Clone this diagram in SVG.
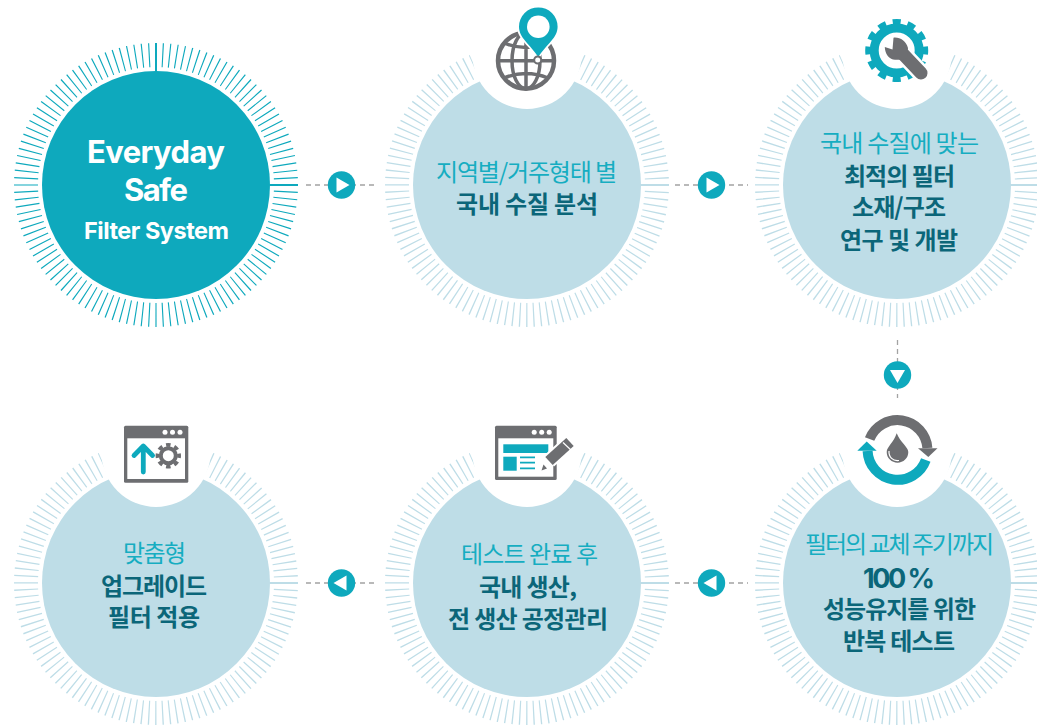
<svg xmlns="http://www.w3.org/2000/svg" xmlns:xlink="http://www.w3.org/1999/xlink" width="1037" height="726" viewBox="0 0 1037 726">
<style>
text{text-anchor:middle;font-family:"Noto Sans CJK KR","Noto Sans",sans-serif}
.en{font-family:Inter,"Liberation Sans",sans-serif;font-weight:700;fill:#fff}
.t{font-size:24px;font-weight:400;fill:#16adc1}
.b{font-size:24px;font-weight:700;fill:#0b6679}
.num{font-family:Inter,"Liberation Sans",sans-serif;font-size:27px;font-weight:700;fill:#0b6679}
.disc{fill:#bedde7}
.tick{fill:none;stroke:#bedde7;stroke-width:24;stroke-dasharray:.55 2.45}
.axis{stroke:#bedde7;stroke-width:2}
.tick1{fill:none;stroke:#0ea9bd;stroke-width:24;stroke-dasharray:.5 2.5;stroke-dashoffset:.25}
.notch{fill:#fff}
.dash{fill:none;stroke:#a3a3a3;stroke-width:1.3;stroke-dasharray:5 4}
.teal{fill:#0ea9bd}
.gray{fill:#6d6e71}
.white{fill:#fff}
.gl{fill:none;stroke:#6d6e71;stroke-width:3.5}
</style>
<defs>
<g id="badge"><circle r="13.7" class="teal"/><path d="M-5-7.500V7.500L8 0Z" class="white"/></g>
<g id="dots"><circle cx="-7.500" r="2.500" class="white"/><circle r="2.500" class="white"/><circle cx="7.500" r="2.500" class="white"/></g>
</defs>

<g id="connectors">
<path class="dash" d="M306 185H378"/>
<path class="dash" d="M675 185H748"/>
<path class="dash" d="M897.500 340V412"/>
<path class="dash" d="M675 583H748"/>
<path class="dash" d="M306 583H378"/>
<use xlink:href="#badge" href="#badge" x="341.500" y="185"/>
<use xlink:href="#badge" href="#badge" x="711.500" y="185"/>
<use xlink:href="#badge" href="#badge" transform="translate(897.500 375) rotate(90)"/>
<use xlink:href="#badge" href="#badge" transform="translate(711.500 583) rotate(180)"/>
<use xlink:href="#badge" href="#badge" transform="translate(341.500 583) rotate(180)"/>
</g>

<g id="node-start">
<circle class="tick1" cx="156" cy="185" r="130" pathLength="360"/>
<path d="M156 43V71M270 185H298" stroke="#0ea9bd" stroke-width="2" fill="none"/>
<circle cx="156" cy="185" r="114" class="teal"/>
<text class="en" x="156" y="163" font-size="31" textLength="138">Everyday</text>
<text class="en" x="156" y="200.500" font-size="31" textLength="64">Safe</text>
<text class="en" x="156.500" y="238.500" font-size="23.500" textLength="145">Filter System</text>
</g>

<g id="node-analysis">
<path class="tick" d="M579.460 66.050A130 130 0 1 1 474.540 66.050" pathLength="312.400"/>
<path class="axis" d="M641 185H669"/>
<circle class="disc" cx="527" cy="185" r="114"/>
<circle class="notch" cx="527" cy="54.500" r="54.500"/>
<circle cx="526" cy="60.700" r="28" class="gl" style="stroke-width:4.500"/>
<ellipse cx="526" cy="60.700" rx="14" ry="28" class="gl"/>
<path class="gl" d="M526 33V88M498 60.700H554M504 43Q526 52 548 43M504 78Q526 69 548 78"/>
<path d="M538.300 60C530 46 517 39 517 26.700A21.300 21.300 0 1 1 559.600 26.700C559.600 39 546.600 46 538.300 60Z" class="white"/>
<path d="M538.300 57C530 44 519 38 519 26.700A19.300 19.300 0 1 1 557.600 26.700C557.600 38 546.600 44 538.300 57Z" class="teal"/>
<circle cx="538.300" cy="26.700" r="11.300" class="white"/>
<circle cx="537.700" cy="60" r="3.500" fill="#fff" stroke="#6d6e71" stroke-width="2"/>
<text class="t" x="526.500" y="181" textLength="181">지역별/거주형태 별</text>
<text class="b" x="527" y="213" textLength="142">국내 수질 분석</text>
</g>

<g id="node-research">
<path class="tick" d="M949.460 66.050A130 130 0 1 1 844.540 66.050" pathLength="312.400"/>
<path class="axis" d="M1011 185H1037"/>
<circle class="disc" cx="897" cy="185" r="114"/>
<circle class="notch" cx="897" cy="54.500" r="54.500"/>
<circle cx="896.700" cy="50.500" r="28" fill="none" stroke="#0ea9bd" stroke-width="7" pathLength="360" stroke-dasharray="16 14" stroke-dashoffset="8"/>
<circle cx="896.700" cy="50.500" r="22.500" fill="none" stroke="#0ea9bd" stroke-width="9"/>
<path d="M903 54L921 73" stroke="#fff" stroke-width="18" stroke-linecap="round"/>
<path d="M903 54L921 73" stroke="#6d6e71" stroke-width="13" stroke-linecap="round"/>
<path d="M884.800 47L892.500 49.500L893.500 37.700C900 37 906 41 908 48L907 58C902 60 897 60 893 59.500C888 58 885 53 884.800 47Z" class="gray"/>
<text class="t" x="899.500" y="152" textLength="159">국내 수질에 맞는</text>
<text class="b" x="899.500" y="185" textLength="111">최적의 필터</text>
<text class="b" x="899" y="216" textLength="94">소재/구조</text>
<text class="b" x="899" y="249" textLength="118">연구 및 개발</text>
</g>

<g id="node-test">
<path class="tick" d="M949.460 464.050A130 130 0 1 1 844.540 464.050" pathLength="312.400"/>
<path class="axis" d="M1011 583H1037"/>
<circle class="disc" cx="897" cy="583" r="114"/>
<circle class="notch" cx="897" cy="452.500" r="54.500"/>
<path d="M869.600 439A30 30 0 0 1 927.400 448" fill="none" stroke="#6d6e71" stroke-width="10"/>
<path d="M918 448.300H937.500L928.300 457Z" class="gray"/>
<path d="M925.800 460A30 30 0 0 1 867.600 451" fill="none" stroke="#0ea9bd" stroke-width="10"/>
<path d="M857.300 450.700H876.700L866.700 441.500Z" class="teal"/>
<path d="M896.700 433.300C894 442 886.700 447 886.700 452A10.800 10.800 0 0 0 908.300 452C908.300 447 900 442 896.700 433.300Z" class="gray"/>
<path d="M889 451C888.500 457 893 461.500 899 460.500" fill="none" stroke="#fff" stroke-width="1.200"/>
<text class="t" x="899.500" y="553" textLength="189">필터의 교체 주기까지</text>
<text class="num" x="899" y="588" textLength="72">100 %</text>
<text class="b" x="899.500" y="618" textLength="153">성능유지를 위한</text>
<text class="b" x="899" y="650" textLength="112">반복 테스트</text>
</g>

<g id="node-production">
<path class="tick" d="M579.460 464.050A130 130 0 1 1 474.540 464.050" pathLength="312.400"/>
<path class="axis" d="M641 583H669"/>
<circle class="disc" cx="527" cy="583" r="114"/>
<circle class="notch" cx="527" cy="452.500" r="54.500"/>
<rect x="495" y="425.700" width="61.700" height="54.300" rx="1.500" class="gray"/>
<rect x="498.300" y="438.300" width="55" height="38.400" class="white"/>
<use xlink:href="#dots" href="#dots" x="541.700" y="432.300"/>
<rect x="503.300" y="444.300" width="45" height="8.700" class="teal"/>
<rect x="503.300" y="456.700" width="13.400" height="14" class="teal"/>
<path d="M520 457.300H535M520 462.700H535M520 468.300H535" stroke="#0ea9bd" stroke-width="1.700" fill="none"/>
<path d="M549 461L570 442" stroke="#fff" stroke-width="15"/>
<path d="M549 461L570 442" stroke="#6d6e71" stroke-width="11"/>
<path d="M563 442.500L572 451" stroke="#fff" stroke-width="1.200" fill="none"/>
<path d="M541.500 470.500L547 468.500L543.500 464.500Z" class="gray"/>
<text class="t" x="529.500" y="562.500" textLength="137">테스트 완료 후</text>
<text class="b" x="528" y="595.500" textLength="98">국내 생산,</text>
<text class="b" x="528" y="627.500" textLength="160">전 생산 공정관리</text>
</g>

<g id="node-upgrade">
<path class="tick" d="M208.460 464.050A130 130 0 1 1 103.540 464.050" pathLength="312.400"/>
<path class="axis" d="M270 583H298"/>
<circle class="disc" cx="156" cy="583" r="114"/>
<circle class="notch" cx="156" cy="452.500" r="54.500"/>
<rect x="124" y="425.700" width="64.300" height="57" rx="1.500" class="gray"/>
<rect x="127.300" y="438.300" width="57.700" height="40.700" class="white"/>
<use xlink:href="#dots" href="#dots" x="172.500" y="432.300"/>
<path d="M143.300 472V447M134 455.500L143.300 446L152.600 455.500" fill="none" stroke="#0ea9bd" stroke-width="4.800" stroke-linecap="round" stroke-linejoin="round"/>
<circle cx="168.300" cy="455.700" r="10.800" fill="none" stroke="#6d6e71" stroke-width="3.800" pathLength="360" stroke-dasharray="24 21" stroke-dashoffset="12"/>
<circle cx="168.300" cy="455.700" r="7.500" fill="none" stroke="#6d6e71" stroke-width="4"/>
<text class="t" x="154.500" y="561.500" textLength="63">맞춤형</text>
<text class="b" x="154" y="595" textLength="106">업그레이드</text>
<text class="b" x="154" y="626" textLength="92">필터 적용</text>
</g>
</svg>
